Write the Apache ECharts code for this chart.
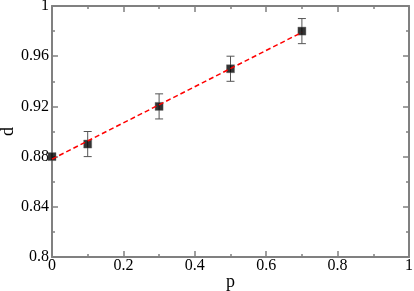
<!DOCTYPE html>
<html>
<head>
<meta charset="utf-8">
<script src="https://cdn.jsdelivr.net/npm/echarts@6/dist/echarts.min.js"></script>
<style>html,body{margin:0;padding:0;background:#fff}#c{width:414px;height:291px}</style>
</head>
<body>
<div id="c"></div>
<script>
var pValues = [0, 0.1, 0.3, 0.5, 0.7];
var dValues = [0.88, 0.89, 0.92, 0.95, 0.98];
var dErrors = [0, 0.01, 0.01, 0.01, 0.01];
var fitP = [0, 0.7];
var fitD = [0.878, 0.979];

var chart = echarts.init(document.getElementById('c'), null, {renderer: 'canvas'});
var font = 'Liberation Serif';
var axisCol = '#808080';

function mkX(pos, show) {
  return {
    type: 'value', position: pos, min: 0, max: 1, interval: 0.2,
    axisLine: {show: true, onZero: false, lineStyle: {color: axisCol, width: 2}},
    axisTick: {show: true, inside: true, length: 6, lineStyle: {color: axisCol, width: 1.5}},
    minorTick: {show: true, splitNumber: 2, length: 3, lineStyle: {color: axisCol, width: 1.5}},
    splitLine: {show: false},
    axisLabel: {show: show, color: '#000', fontFamily: font, fontSize: 16, margin: 1},
    name: show ? 'p' : '', nameLocation: 'middle', nameGap: 16, nameMoveOverlap: false,
    nameTextStyle: {color: '#000', fontFamily: font, fontSize: 18}
  };
}
function mkY(pos, show) {
  return {
    type: 'value', position: pos, min: 0.8, max: 1, interval: 0.04,
    axisLine: {show: true, onZero: false, lineStyle: {color: axisCol, width: 2}},
    axisTick: {show: true, inside: true, length: 6, lineStyle: {color: axisCol, width: 1.5}},
    minorTick: {show: true, splitNumber: 2, length: 3, lineStyle: {color: axisCol, width: 1.5}},
    splitLine: {show: false},
    axisLabel: {show: show, color: '#000', fontFamily: font, fontSize: 16, margin: 3},
    name: show ? 'd' : '', nameLocation: 'middle', nameGap: 35, nameMoveOverlap: false,
    nameTextStyle: {color: '#000', fontFamily: font, fontSize: 18}
  };
}

var pts = pValues.map(function (p, i) { return [p, dValues[i], dErrors[i]]; });
var fit = fitP.map(function (p, i) { return [p, fitD[i]]; });

chart.setOption({
  animation: false,
  backgroundColor: '#fff',
  grid: {left: 52, top: 6, right: 5, bottom: 34, containLabel: false, outerBoundsMode: 'none'},
  xAxis: [mkX('bottom', true), mkX('top', false)],
  yAxis: [mkY('left', true), mkY('right', false)],
  series: [
    {
      type: 'line', data: fit, showSymbol: false, symbol: 'none',
      lineStyle: {color: '#ff0000', width: 1.5, type: [5, 3]}, z: 3
    },
    {
      type: 'custom', data: pts, z: 2,
      renderItem: function (params, api) {
        var x = api.value(0), y = api.value(1), e = api.value(2);
        if (!e) return null;
        var top = api.coord([x, y + e]);
        var bot = api.coord([x, y - e]);
        var hw = 4;
        var st = {stroke: '#555', lineWidth: 1};
        return {
          type: 'group',
          children: [
            {type: 'line', shape: {x1: top[0], y1: top[1], x2: bot[0], y2: bot[1]}, style: st},
            {type: 'line', shape: {x1: top[0] - hw, y1: top[1], x2: top[0] + hw, y2: top[1]}, style: st},
            {type: 'line', shape: {x1: bot[0] - hw, y1: bot[1], x2: bot[0] + hw, y2: bot[1]}, style: st}
          ]
        };
      }
    },
    {
      type: 'scatter', data: pts, symbol: 'rect', symbolSize: 8,
      itemStyle: {color: '#000', borderColor: '#666', borderWidth: 0.5}, z: 2
    }
  ]
});
</script>
</body>
</html>
